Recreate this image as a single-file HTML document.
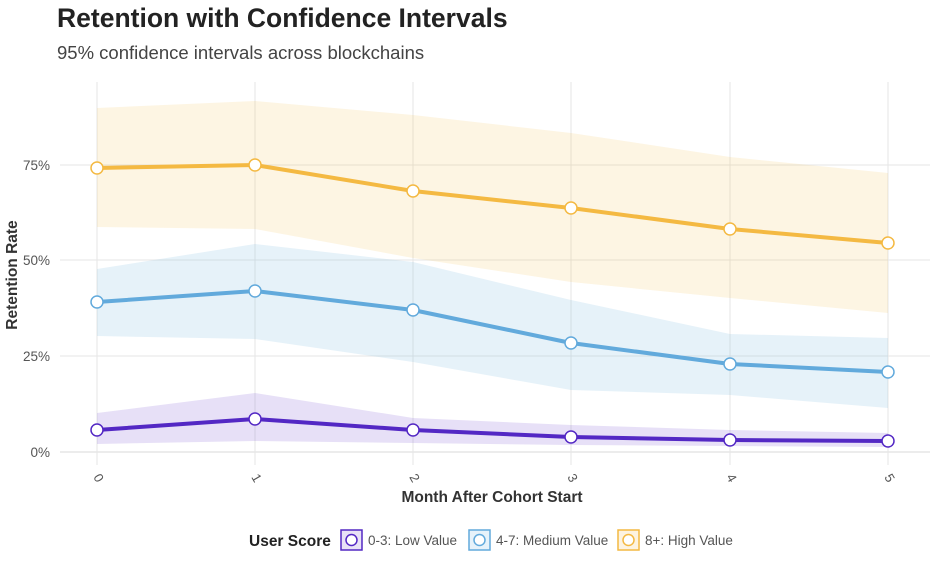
<!DOCTYPE html>
<html><head><meta charset="utf-8"><style>
body{margin:0;background:#fff;}
svg{display:block;font-family:"Liberation Sans",sans-serif;}
</style></head><body>
<svg width="942" height="576" viewBox="0 0 942 576" xmlns="http://www.w3.org/2000/svg">
<rect width="942" height="576" fill="#fff"/>
<text x="57" y="27" font-size="26.5" font-weight="bold" fill="#222">Retention with Confidence Intervals</text>
<text x="57" y="59" font-size="18.5" fill="#444">95% confidence intervals across blockchains</text>
<g stroke="#e6e6e6" stroke-width="1">
<line x1="60" x2="930" y1="165" y2="165"/><line x1="60" x2="930" y1="260" y2="260"/>
<line x1="60" x2="930" y1="356" y2="356"/><line x1="60" x2="930" y1="452" y2="452" stroke="#ececec" stroke-width="2"/>
<line x1="97" x2="97" y1="82" y2="465"/><line x1="255" x2="255" y1="82" y2="465"/>
<line x1="413" x2="413" y1="82" y2="465"/><line x1="571" x2="571" y1="82" y2="465"/>
<line x1="730" x2="730" y1="82" y2="465"/><line x1="888" x2="888" y1="82" y2="465"/>
</g>
<polygon fill="#f4b942" fill-opacity="0.15" points="97,108 255,101 413,115 571,133 730,157 888,173 888,313 730,298 571,282 413,258 255,229 97,227"/>
<polygon fill="#6ab0de" fill-opacity="0.17" points="97,269 255,244 413,262 571,300 730,334 888,338 888,408 730,395 571,390 413,362 255,339 97,336"/>
<polygon fill="#7b52d0" fill-opacity="0.18" points="97,413 255,393 413,418 571,425 730,430 888,433 888,447 730,446 571,445 413,443 255,441 97,444"/>
<g fill="none" stroke-width="4" stroke-linejoin="round">
<polyline stroke="#f4b942" points="97,168 255,165 413,191 571,208 730,229 888,243"/>
<polyline stroke="#62aadc" points="97,302 255,291 413,310 571,343 730,364 888,372"/>
<polyline stroke="#5328c4" points="97,430 255,419 413,430 571,437 730,440 888,441"/>
</g>
<g fill="#fff" stroke-width="1.5">
<g stroke="#f4b942"><circle cx="97" cy="168" r="6"/><circle cx="255" cy="165" r="6"/><circle cx="413" cy="191" r="6"/><circle cx="571" cy="208" r="6"/><circle cx="730" cy="229" r="6"/><circle cx="888" cy="243" r="6"/></g>
<g stroke="#62aadc"><circle cx="97" cy="302" r="6"/><circle cx="255" cy="291" r="6"/><circle cx="413" cy="310" r="6"/><circle cx="571" cy="343" r="6"/><circle cx="730" cy="364" r="6"/><circle cx="888" cy="372" r="6"/></g>
<g stroke="#5328c4"><circle cx="97" cy="430" r="6"/><circle cx="255" cy="419" r="6"/><circle cx="413" cy="430" r="6"/><circle cx="571" cy="437" r="6"/><circle cx="730" cy="440" r="6"/><circle cx="888" cy="441" r="6"/></g>
</g>
<g font-size="13.5" fill="#555" text-anchor="end">
<text x="50" y="170">75%</text><text x="50" y="265">50%</text><text x="50" y="361">25%</text><text x="50" y="457">0%</text>
</g>
<g font-size="13" fill="#555">
<text transform="translate(93,477) rotate(60)">0</text><text transform="translate(251,477) rotate(60)">1</text>
<text transform="translate(409,477) rotate(60)">2</text><text transform="translate(567,477) rotate(60)">3</text>
<text transform="translate(726,477) rotate(60)">4</text><text transform="translate(884,477) rotate(60)">5</text>
</g>
<text x="492" y="502" font-size="15.5" font-weight="bold" fill="#333" text-anchor="middle">Month After Cohort Start</text>
<text transform="translate(17,275) rotate(-90)" font-size="15.5" font-weight="bold" fill="#333" text-anchor="middle">Retention Rate</text>
<text x="249" y="546" font-size="15.5" font-weight="bold" fill="#222">User Score</text>
<g stroke-width="1.5" fill="#fff">
<rect x="341" y="530" width="21" height="20" fill="#e8e2f6" stroke="#5328c4"/><circle cx="351.5" cy="540" r="5.5" stroke="#5328c4"/>
<rect x="469" y="530" width="21" height="20" fill="#e6f2fa" stroke="#62aadc"/><circle cx="479.5" cy="540" r="5.5" stroke="#62aadc"/>
<rect x="618" y="530" width="21" height="20" fill="#fdf3e0" stroke="#f4b942"/><circle cx="628.5" cy="540" r="5.5" stroke="#f4b942"/>
</g>
<g font-size="13.5" fill="#555">
<text x="368" y="545">0-3: Low Value</text><text x="496" y="545">4-7: Medium Value</text><text x="645" y="545">8+: High Value</text>
</g>
</svg>
</body></html>
